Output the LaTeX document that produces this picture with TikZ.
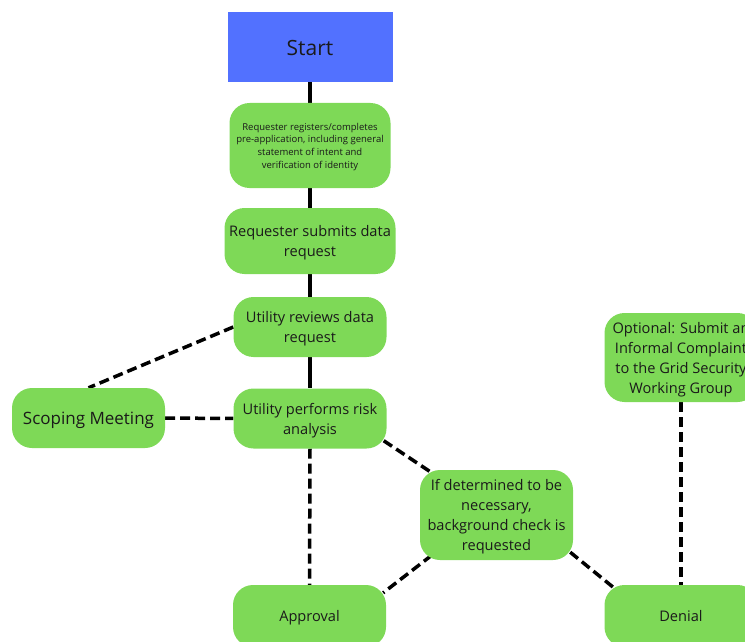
\documentclass[tikz,border=0pt]{standalone}
\usepackage{fontspec}
\setmainfont{Open Sans}
\definecolor{StartBlue}{HTML}{5271FF}
\definecolor{BoxGreen}{HTML}{7ED957}
\definecolor{TextDark}{HTML}{1A1A1A}
\usetikzlibrary{positioning, calc, backgrounds}
% line box of the font in force, to centre text blocks as the drawing tool does
\newcommand{\lhstrut}{\rule[-0.293em]{0pt}{1.362em}}

\begin{document}
\begin{tikzpicture}[x=1pt, y=-1pt,
    stepbox/.style={fill=BoxGreen, rounded corners=20pt, minimum width=153pt,
        minimum height=60pt, inner sep=0pt, align=center, text=TextDark,
        font=\fontsize{14.6}{20}\selectfont},
    flow/.style={line width=3.5pt},
    opt/.style={line width=3.5pt, dash pattern=on 10pt off 5pt}]
    \useasboundingbox (0,0) rectangle (745,642);
    % Start
    \node[fill=StartBlue, minimum width=165pt, minimum height=70pt, inner sep=0pt,
        font=\fontsize{21}{24}\selectfont, text=TextDark] (start) at (310,47) {\lhstrut Start};
    % Main column
    \node[stepbox, minimum width=161pt, minimum height=85pt,
        font=\fontsize{9.5}{12.7}\selectfont] (register) at (310,145.5)
        {\lhstrut Requester registers/completes\\pre-application, including general\\statement of intent and\\verification of identity\lhstrut};
    \node[stepbox, minimum width=171pt, minimum height=66pt] (submit) at (310,241)
        {\lhstrut Requester submits data\\request\lhstrut};
    \node[stepbox] (review) at (310,327) {\lhstrut Utility reviews data\\request\lhstrut};
    \node[stepbox] (risk) at (310,418.5) {\lhstrut Utility performs risk\\analysis\lhstrut};
    % Side and outcome boxes
    \node[stepbox, font=\fontsize{17}{20}\selectfont] (scoping) at (88.5,418) {\lhstrut Scoping Meeting};
    \node[stepbox, minimum height=90pt] (check) at (496.5,515)
        {\lhstrut If determined to be\\necessary,\\background check is\\requested\lhstrut};
    \node[stepbox, minimum height=89pt] (complaint) at (681,357.5)
        {\lhstrut Optional: Submit an\\Informal Complaint\\to the Grid Security\\Working Group\lhstrut};
    \node[stepbox, minimum height=62pt] (approval) at (309.5,616) {\lhstrut Approval};
    \node[stepbox, minimum height=62pt] (denial) at (681,616) {\lhstrut Denial};
    \begin{scope}[on background layer]
    % Solid flow
    \draw[flow] (start) -- (register);
    \draw[flow] (register) -- (submit);
    \draw[flow] (submit) -- (review);
    \draw[flow] (review) -- (risk);
    % Dashed links
    \draw[opt] (review.west) -- (scoping.north);
    \draw[opt] (scoping) -- (risk);
    \draw[opt] (risk.south) -- (approval.north);
    \draw[opt] ($(risk.south east)+(-3,-8)$) -- ($(check.north west)+(12,3)$);
    \draw[opt] ($(check.south west)+(12,-5)$) -- ($(approval.north east)+(-3,8)$);
    \draw[opt] ($(check.south east)+(-3,-8)$) -- ($(denial.north west)+(12,5)$);
    \draw[opt] (complaint) -- (denial);
    \end{scope}
\end{tikzpicture}
\end{document}
